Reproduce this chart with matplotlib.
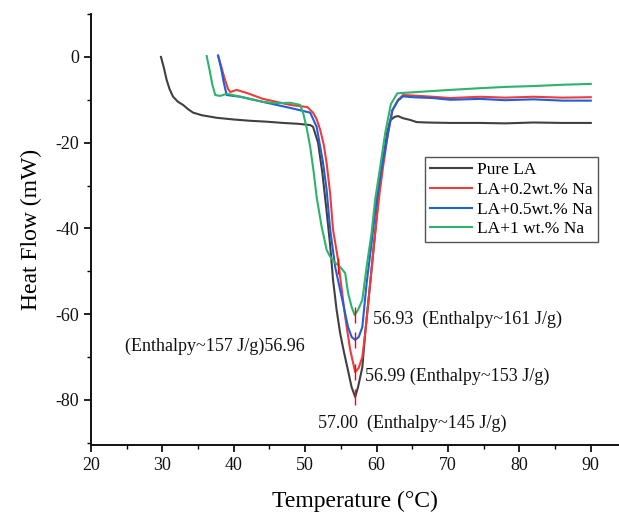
import matplotlib
matplotlib.use("Agg")
import matplotlib.pyplot as plt

plt.rcParams['font.family'] = ['Liberation Serif', 'DejaVu Serif']
plt.rcParams['axes.unicode_minus'] = False

# ---------------- data ----------------
T_pure = [29.8, 30.2, 30.6, 31.0, 31.5, 32.2, 32.9, 33.6, 34.3, 35.5, 37.6, 40.0, 42.3, 44.5,
          46.9, 49.0, 50.7, 51.1, 51.8, 52.4, 53.0, 53.5, 53.9, 54.4, 54.9, 55.4, 55.9, 56.5,
          57.0, 57.4, 58.0, 58.4, 59.1, 59.8, 60.3, 60.9, 61.5, 61.9, 62.5, 63.0, 63.7, 64.7,
          65.6, 67.0, 70.3, 74.5, 78.0, 82.0, 86.0, 90.0]
H_pure = [0.0, -2.5, -5.4, -7.5, -9.3, -10.5, -11.2, -12.2, -13.0, -13.6, -14.2, -14.6, -14.9, -15.1,
          -15.4, -15.6, -15.9, -16.3, -20.0, -27.0, -36.0, -44.0, -52.0, -59.0, -64.5, -68.6, -72.4, -77.0,
          -79.3, -77.0, -72.4, -64.5, -52.8, -41.0, -32.0, -24.0, -17.5, -14.8, -14.0, -13.8, -14.3, -14.7,
          -15.2, -15.3, -15.4, -15.4, -15.5, -15.3, -15.4, -15.4]

T_02 = [37.8, 38.2, 38.7, 39.2, 39.5, 40.4, 41.8, 44.1, 46.0, 47.9, 50.3, 51.1, 51.6, 52.1, 52.6,
        53.0, 53.5, 53.9, 54.6, 55.1, 55.6, 56.3, 57.0, 57.5, 58.0, 58.4, 59.1, 59.8, 60.4, 60.9,
        61.6, 62.2, 63.0, 63.7, 65.0, 67.9, 70.3, 74.5, 78.0, 82.0, 86.0, 90.0]
H_02 = [0.3, -2.0, -5.0, -7.5, -8.2, -7.7, -8.4, -9.8, -10.5, -11.2, -11.7, -13.0, -14.5, -17.0, -20.5,
        -24.7, -32.0, -40.3, -47.3, -54.0, -60.6, -68.3, -73.5, -72.5, -70.0, -64.5, -52.8, -41.0, -32.0, -25.7,
        -17.8, -12.5, -10.0, -8.9, -9.0, -9.3, -9.6, -9.3, -9.5, -9.3, -9.5, -9.4]

T_05 = [37.8, 38.2, 38.6, 39.0, 40.9, 44.1, 46.0, 47.9, 50.7, 51.6, 52.0, 52.5, 53.0, 53.5, 54.2,
        55.2, 56.0, 56.5, 57.0, 57.5, 58.0, 58.6, 59.3, 60.0, 60.5, 60.9, 61.6, 62.2, 63.0, 63.7,
        65.0, 67.9, 70.3, 74.5, 78.0, 82.0, 86.0, 90.0]
H_05 = [0.3, -2.5, -6.0, -8.9, -9.3, -10.5, -11.2, -11.9, -13.0, -16.3, -20.0, -24.7, -31.0, -40.3, -49.0,
        -56.7, -63.0, -65.3, -66.0, -65.3, -63.0, -52.8, -43.4, -33.3, -28.0, -24.0, -17.8, -12.5, -10.2, -9.2,
        -9.4, -9.6, -10.0, -9.8, -10.1, -9.9, -10.2, -10.2]

T_1 = [36.2, 36.6, 37.0, 37.4, 38.1, 39.0, 41.0, 44.1, 46.0, 47.9, 49.3, 49.7, 50.2, 50.7, 51.2,
       51.6, 52.3, 52.8, 53.0, 53.5, 54.2, 54.9, 55.6, 56.0, 56.5, 56.93, 57.4, 58.0, 58.6, 59.3,
       59.8, 60.5, 61.2, 62.0, 62.9, 65.6, 70.3, 74.5, 78.0, 82.0, 86.0, 90.0]
H_1 = [0.2, -3.0, -6.5, -8.9, -9.1, -8.6, -9.3, -10.5, -10.8, -10.7, -11.2, -13.0, -16.5, -21.0, -27.0,
       -32.6, -39.6, -43.4, -45.0, -46.6, -48.0, -49.0, -50.4, -55.0, -58.3, -60.2, -59.0, -56.7, -49.0, -41.0,
       -33.3, -25.7, -17.8, -11.0, -8.5, -8.2, -7.7, -7.3, -7.0, -6.8, -6.5, -6.3]

series_labels = ["Pure LA", "LA+0.2wt.% Na", "LA+0.5wt.% Na", "LA+1 wt.% Na"]
series_colors = ["#404040", "#EE3B3B", "#1F5FD9", "#2DB36B"]

peak_T = [57.00, 56.99, 56.96, 56.93, 54.6]
peak_H = [-79.3, -73.5, -66.0, -60.2, -48.7]

ann_texts = ["56.93  (Enthalpy~161 J/g)", "(Enthalpy~157 J/g)56.96",
             "56.99 (Enthalpy~153 J/g)", "57.00  (Enthalpy~145 J/g)"]
ann_x = [59.5, 50.0, 58.4, 51.8]
ann_y = [-61.3, -67.6, -74.6, -85.4]
ann_ha = ["left", "right", "left", "left"]

xticks = [20, 30, 40, 50, 60, 70, 80, 90]
yticks = [0, -20, -40, -60, -80]

# ---------------- figure ----------------
fig = plt.figure(figsize=(6.19, 5.13), dpi=100)
ax = fig.add_axes([91/619, 68/513, (619-91)/619, (445-14)/513])

data = [(T_pure, H_pure), (T_02, H_02), (T_05, H_05), (T_1, H_1)]
for (t, h), lab, col in zip(data, series_labels, series_colors):
    ax.plot(t, h, color=col, lw=1.5, label=lab, solid_joinstyle='round')

ax.plot(peak_T, peak_H, ls='none', marker='|', color='red', markersize=11, mew=1.0)

for s, x, y, ha in zip(ann_texts, ann_x, ann_y, ann_ha):
    ax.text(x, y, s, ha=ha, va='center', fontsize=13, color='#111111')

ax.set_xlim(20, 93.95)
ax.set_ylim(-90.5, 10)
ax.set_xticks(xticks)
ax.set_yticks(yticks)
ax.set_xticks([25, 35, 45, 55, 65, 75, 85], minor=True)
ax.set_yticks([-10, -30, -50, -70, -90, 10], minor=True)
ax.tick_params(which='major', direction='out', length=5, width=1.3, labelsize=13, colors='#111111')
ax.tick_params(which='minor', direction='out', length=3, width=1.0)
for sp in ['top', 'right']:
    ax.spines[sp].set_visible(False)
for sp in ['left', 'bottom']:
    ax.spines[sp].set_linewidth(1.4)
    ax.spines[sp].set_color('#111111')

ax.set_xlabel("Temperature (°C)", fontsize=17, labelpad=12)
ax.set_ylabel("Heat Flow (mW)", fontsize=17, labelpad=10)

leg = ax.legend(loc='upper right', bbox_to_anchor=(598/619, 1-157/513),
                bbox_transform=fig.transFigure, borderaxespad=0, fontsize=12.5,
                handlelength=2.4, handletextpad=0.3, labelspacing=0.2,
                frameon=True, fancybox=False, framealpha=1, borderpad=0.3)
leg.get_frame().set_edgecolor('#555555')
leg.get_frame().set_linewidth(1.0)

fig.savefig("out.png", dpi=100)
